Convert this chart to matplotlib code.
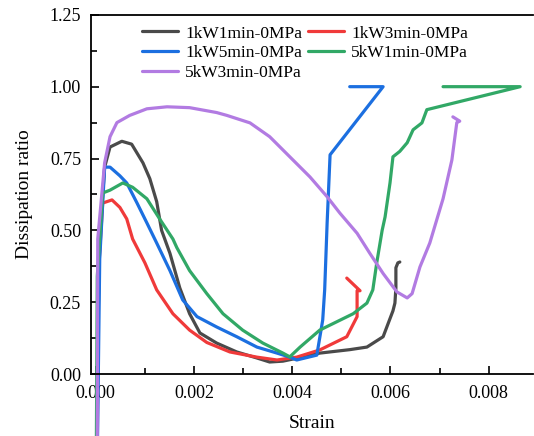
import matplotlib
matplotlib.use("Agg")
import matplotlib.pyplot as plt
from matplotlib.ticker import MultipleLocator

plt.rcParams['font.family'] = ['Liberation Serif', 'DejaVu Serif']

labels = ["1kW1min-0MPa", "1kW3min-0MPa", "1kW5min-0MPa", "5kW1min-0MPa", "5kW3min-0MPa"]
colors = ["#4a4a4a", "#f03a3a", "#1c6fe0", "#31a866", "#b27be2"]

# 1kW1min-0MPa
x1 = [0.00002, 0.00004, 0.00006, 0.00008, 0.00018, 0.00029, 0.00053, 0.00073, 0.00096, 0.00110,
      0.00124, 0.00134, 0.00151, 0.00171, 0.00191, 0.00212, 0.00246, 0.00287, 0.00328, 0.00354,
      0.00381, 0.00395, 0.00456, 0.00517, 0.00552, 0.00585, 0.00605, 0.00609, 0.00611, 0.00611,
      0.00615, 0.00619]
y1 = [-0.30, 0.10, 0.30, 0.47, 0.72, 0.79, 0.81, 0.80, 0.735, 0.68,
      0.60, 0.50, 0.42, 0.30, 0.21, 0.143, 0.108, 0.077, 0.056, 0.042,
      0.045, 0.050, 0.073, 0.085, 0.094, 0.13, 0.22, 0.247, 0.30, 0.37,
      0.387, 0.39]

# 1kW3min-0MPa
x2 = [0.00003, 0.00005, 0.00014, 0.00033, 0.00049, 0.00063, 0.00075, 0.00100, 0.00124, 0.00157,
      0.00191, 0.00226, 0.00273, 0.00328, 0.00369, 0.00409, 0.00456, 0.00511, 0.00532, 0.00532,
      0.00538, 0.00511]
y2 = [-0.30, 0.34, 0.595, 0.606, 0.58, 0.54, 0.47, 0.387, 0.293, 0.21,
      0.153, 0.11, 0.077, 0.059, 0.049, 0.059, 0.084, 0.13, 0.20, 0.29,
      0.29, 0.334]

# 1kW5min-0MPa
x3 = [0.00003, 0.00008, 0.00018, 0.00029, 0.00049, 0.00063, 0.00084, 0.00104, 0.00124, 0.00151,
      0.00177, 0.00206, 0.00246, 0.00287, 0.00328, 0.00369, 0.00395, 0.00409, 0.00450, 0.00462,
      0.00466, 0.00471, 0.00477, 0.00585, 0.00517]
y3 = [-0.30, 0.40, 0.72, 0.72, 0.69, 0.665, 0.595, 0.526, 0.456, 0.36,
      0.258, 0.20, 0.164, 0.13, 0.094, 0.073, 0.059, 0.049, 0.066, 0.188,
      0.293, 0.526, 0.763, 1.00, 1.00]

# 5kW1min-0MPa
x4 = [0.00001, 0.00003, 0.00014, 0.00029, 0.00055, 0.00075, 0.00104, 0.00130, 0.00157, 0.00165,
      0.00191, 0.00226, 0.00259, 0.00299, 0.00340, 0.00381, 0.00395, 0.00416, 0.00456, 0.00524,
      0.00552, 0.00564, 0.00572, 0.00583, 0.00589, 0.00599, 0.00605, 0.00619, 0.00634, 0.00646,
      0.00664, 0.00674, 0.00864, 0.00707]
y4 = [-0.30, 0.34, 0.63, 0.64, 0.665, 0.65, 0.61, 0.54, 0.47, 0.44,
      0.36, 0.28, 0.21, 0.153, 0.108, 0.073, 0.060, 0.094, 0.153, 0.21,
      0.247, 0.293, 0.387, 0.50, 0.547, 0.665, 0.756, 0.775, 0.805, 0.85,
      0.874, 0.92, 1.00, 1.00]

# 5kW3min-0MPa
x5 = [0.00003, 0.00004, 0.00018, 0.00029, 0.00043, 0.00069, 0.00104, 0.00145, 0.00191, 0.00246,
      0.00267, 0.00314, 0.00354, 0.00395, 0.00436, 0.00471, 0.00497, 0.00532, 0.00558, 0.00585,
      0.00613, 0.00634, 0.00644, 0.00660, 0.00680, 0.00707, 0.00725, 0.00735, 0.00741, 0.00727]
y5 = [-0.30, 0.47, 0.735, 0.826, 0.875, 0.90, 0.923, 0.93, 0.927, 0.91,
      0.90, 0.874, 0.826, 0.756, 0.686, 0.617, 0.56, 0.49, 0.42, 0.35,
      0.286, 0.265, 0.28, 0.373, 0.456, 0.61, 0.745, 0.875, 0.88, 0.895]

xs = [x1, x2, x3, x4, x5]
ys = [y1, y2, y3, y4, y5]

fig = plt.figure(figsize=(5.34, 4.36), dpi=100)
ax = fig.add_axes([0.170, 0.142, 0.828, 0.824])

handles = []
for x, y, c, lab in zip(xs, ys, colors, labels):
    h, = ax.plot(x, y, color=c, lw=2.3, label=lab, clip_on=False,
                 solid_joinstyle='round', solid_capstyle='round')
    handles.append(h)

ax.set_xlim(-0.000102, 0.0089)
ax.set_ylim(0, 1.25)
ax.xaxis.set_major_locator(MultipleLocator(0.002))
ax.xaxis.set_minor_locator(MultipleLocator(0.001))
ax.yaxis.set_major_locator(MultipleLocator(0.25))
ax.yaxis.set_minor_locator(MultipleLocator(0.125))
ax.xaxis.set_major_formatter(plt.FuncFormatter(lambda v, p: f"{v:.3f}"))
ax.yaxis.set_major_formatter(plt.FuncFormatter(lambda v, p: f"{v:.2f}"))
ax.tick_params(which='both', direction='in', labelsize=13, width=1.2)
ax.tick_params(which='major', length=6)
ax.tick_params(which='minor', length=4)
ax.tick_params(axis='x', which='major', pad=8)
ax.tick_params(axis='y', which='major', pad=7)
ax.spines['right'].set_visible(False)
for s in ['left', 'bottom', 'top']:
    ax.spines[s].set_linewidth(1.3)
ax.set_xlabel("Strain", fontsize=14, labelpad=9)
ax.set_ylabel("Dissipation ratio", fontsize=14, labelpad=12)

order = [0, 2, 4, 1, 3]
ax.legend([handles[i] for i in order], [labels[i] for i in order],
          loc='upper left', bbox_to_anchor=(0.10, 0.99), ncol=2, frameon=False,
          fontsize=12.5, handlelength=2.1, handletextpad=0.4, columnspacing=0.3,
          labelspacing=0.2, borderaxespad=0.0)

fig.savefig("out.png", dpi=100)
